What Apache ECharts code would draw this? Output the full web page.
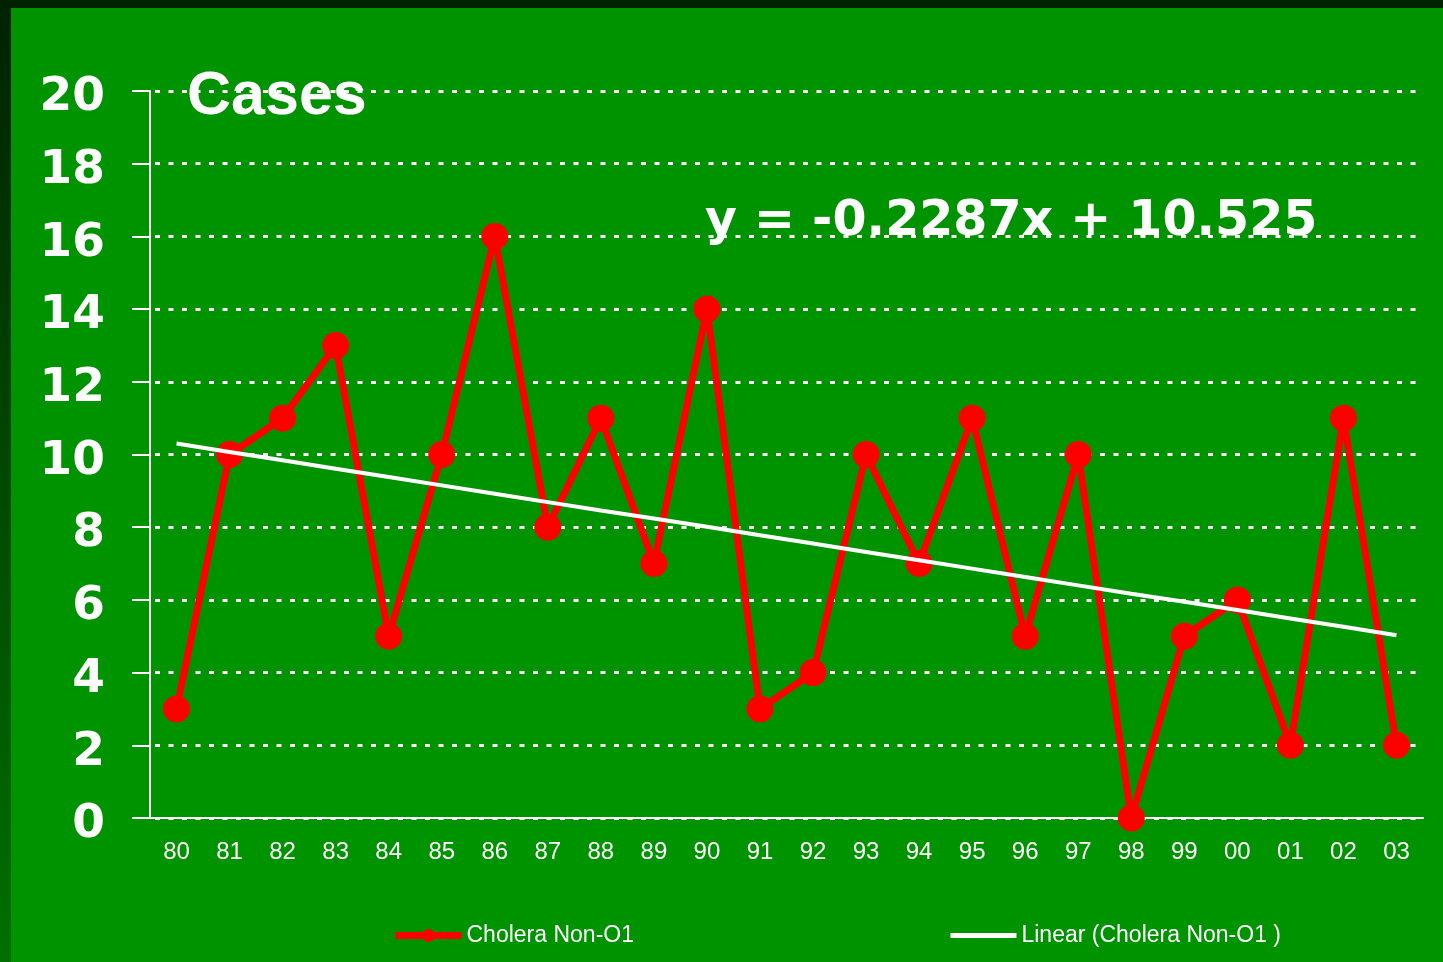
<!DOCTYPE html>
<html>
<head>
<meta charset="utf-8">
<script src="https://cdn.jsdelivr.net/npm/echarts@6/dist/echarts.min.js"></script>
<style>
  html, body { margin: 0; padding: 0; }
  #main { width: 1443px; height: 962px; }
</style>
</head>
<body>
<div id="main"></div>
<script>
// years on the x axis
var years = ['80', '81', '82', '83', '84', '85', '86', '87', '88', '89', '90', '91',
             '92', '93', '94', '95', '96', '97', '98', '99', '00', '01', '02', '03'];
// cases per year
var cases = [3, 10, 11, 13, 5, 10, 16, 8, 11, 7, 14, 3,
             4, 10, 7, 11, 5, 10, 0, 5, 6, 2, 11, 2];
// trend line
var trend = [10.30, 10.07, 9.84, 9.61, 9.38, 9.15, 8.92, 8.69, 8.46, 8.24, 8.01, 7.78,
             7.55, 7.32, 7.09, 6.86, 6.63, 6.40, 6.17, 5.95, 5.72, 5.49, 5.26, 5.03];
var yTicks = [0, 2, 4, 6, 8, 10, 12, 14, 16, 18, 20];

var chart = echarts.init(document.getElementById('main'));

var option = {
  backgroundColor: '#009300',
  animation: false,
  grid: {
    left: 150,
    right: 20,
    top: 91,
    bottom: 144
  },
  legend: {
    left: 392,
    top: 924,
    padding: 0,
    itemWidth: 66,
    itemHeight: 16,
    itemGap: 314,
    textStyle: {
      color: '#ffffff',
      fontSize: 23,
      fontFamily: 'Liberation Sans, Arial, sans-serif'
    },
    data: [
      { name: 'Cholera Non-O1', lineStyle: { width: 7 } },
      { name: 'Linear (Cholera Non-O1 )', lineStyle: { width: 5 }, itemStyle: { opacity: 0 } }
    ]
  },
  xAxis: {
    type: 'category',
    data: years,
    boundaryGap: true,
    axisLine: { lineStyle: { color: '#ffffff', width: 2 } },
    axisTick: { length: 7, lineStyle: { color: '#ffffff', width: 2 } },
    axisLabel: {
      color: '#ffffff',
      fontSize: 24,
      margin: 22,
      fontFamily: 'Liberation Sans, Arial, sans-serif'
    }
  },
  yAxis: {
    type: 'value',
    min: yTicks[0],
    max: yTicks[yTicks.length - 1],
    interval: 2,
    axisLine: { show: true, lineStyle: { color: '#ffffff', width: 2 } },
    axisTick: { show: true, length: 18, lineStyle: { color: '#ffffff', width: 2 } },
    axisLabel: {
      color: '#ffffff',
      margin: 45,
      formatter: function (v) { return '{n|' + v + '}'; },
      rich: {
        n: {
          color: '#ffffff',
          fontSize: 47,
          fontWeight: 'bold',
          fontFamily: 'DejaVu Sans, Verdana, sans-serif',
          padding: [14, 0, 0, 0]
        }
      }
    },
    splitLine: {
      show: true,
      lineStyle: { color: '#ffffff', width: 3, type: [5, 8.5], dashOffset: -5 }
    }
  },
  graphic: [
    {
      type: 'rect',
      shape: { x: 0, y: 0, width: 11, height: 962 },
      style: {
        fill: new echarts.graphic.LinearGradient(0, 0, 0, 1, [
          { offset: 0, color: '#002200' },
          { offset: 1, color: '#007000' }
        ])
      },
      z: 10
    },
    {
      type: 'rect',
      shape: { x: 0, y: 0, width: 1443, height: 8 },
      style: { fill: '#002200' },
      z: 10
    },
    {
      type: 'text',
      x: 187,
      y: 97,
      style: {
        text: 'Cases',
        fill: '#ffffff',
        fontSize: 61,
        fontWeight: 'bold',
        fontFamily: 'Liberation Sans, Arial, sans-serif',
        verticalAlign: 'middle'
      },
      z: 10
    },
    {
      type: 'text',
      x: 705,
      y: 222,
      style: {
        text: 'y = -0.2287x + 10.525',
        fill: '#ffffff',
        fontSize: 49,
        fontWeight: 'bold',
        fontFamily: 'DejaVu Sans, Verdana, sans-serif',
        verticalAlign: 'middle'
      },
      z: 10
    }
  ],
  series: [
    {
      name: 'Cholera Non-O1',
      type: 'line',
      data: cases,
      symbol: 'circle',
      symbolSize: 27,
      itemStyle: { color: '#ff0000' },
      lineStyle: { color: '#ff0000', width: 7 },
      z: 3
    },
    {
      name: 'Linear (Cholera Non-O1 )',
      type: 'line',
      data: trend,
      symbol: 'none',
      itemStyle: { color: '#ffffff' },
      lineStyle: { color: '#ffffff', width: 4 },
      z: 4
    }
  ]
};

chart.setOption(option);
</script>
</body>
</html>
